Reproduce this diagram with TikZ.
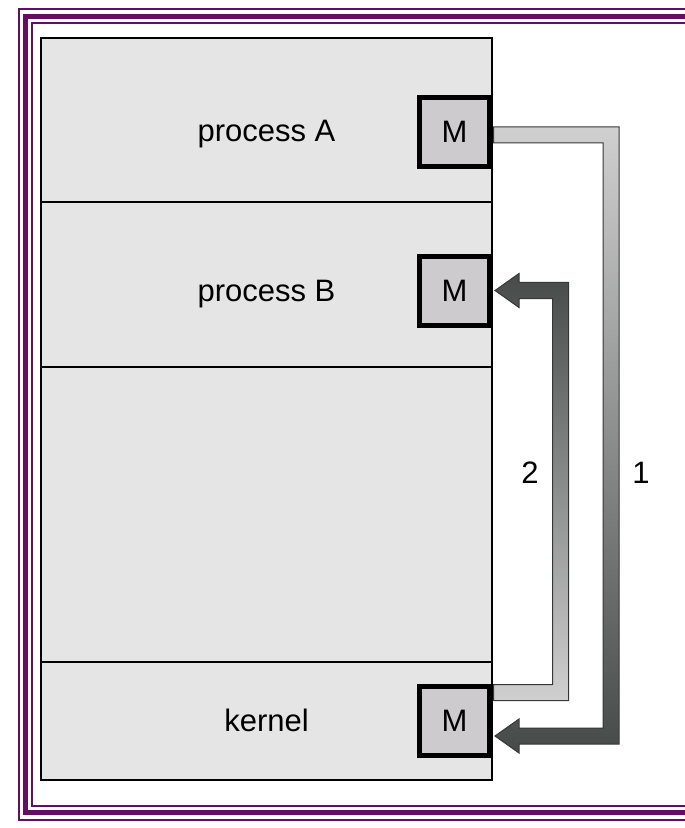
\documentclass[tikz,border=0pt]{standalone}
\usepackage{fontspec}
\setmainfont{Liberation Sans}
\usetikzlibrary{calc}
\definecolor{frameP}{RGB}{98,14,98}
\definecolor{panelfill}{RGB}{229,229,229}
\definecolor{mfill}{RGB}{205,203,206}
\definecolor{arrLight}{RGB}{208,208,208}
\definecolor{arrDark}{RGB}{70,74,72}
\definecolor{arrEdge}{RGB}{55,55,55}
\begin{document}
\begin{tikzpicture}[x=0.5pt,y=-0.5pt,
  thinframe/.style={draw=frameP,line width=1pt,line join=miter},
  thickframe/.style={draw=frameP,line width=2.5pt,line join=miter},
  mbox/.style={draw=black,line width=2.5pt,fill=mfill,inner sep=0pt,outer sep=0pt,
    minimum width=35pt,minimum height=34.5pt,font=\fontsize{15.5pt}{18pt}\selectfont},
  lbl/.style={anchor=base,inner sep=0pt,font=\fontsize{15.5pt}{18pt}\selectfont},
  arrowbody/.style={draw=arrEdge,line width=0.5pt,line join=miter}]
\useasboundingbox (0,0) rectangle (684,828);
% frame
\draw[thinframe] (690,9.5) -- (19,9.5) -- (19,819.5) -- (690,819.5);
\draw[thickframe] (690,16.5) -- (25,16.5) -- (25,812.5) -- (690,812.5);
\draw[thinframe] (690,23.5) -- (32,23.5) -- (32,805.5) -- (690,805.5);
% main panel
\node (panel) [draw=black,fill=panelfill,line width=1.25pt,inner sep=0pt,outer sep=0pt,
  minimum width=225.5pt,minimum height=371pt] at (266.5,409) {};
\coordinate (d1) at (0,202);
\coordinate (d2) at (0,367);
\coordinate (d3) at (0,662);
\draw[line width=1.1pt] (panel.west |- d1) -- (panel.east |- d1);
\draw[line width=1.1pt] (panel.west |- d2) -- (panel.east |- d2);
\draw[line width=1.1pt] (panel.west |- d3) -- (panel.east |- d3);
% labels
\node (tA) [lbl] at (266.5,142) {process A};
\node (tB) [lbl] at (266.5,301) {process B};
\node (tK) [lbl] at (266.5,731) {kernel};
% M boxes
\node (mA) [mbox] at (454.5,132) {M};
\node (mB) [mbox] at (454.5,291) {M};
\node (mK) [mbox] at (454.5,721) {M};
% arrow 1: process A -> kernel
\coordinate (a1s) at ($(mA.east)+(4,3)$);
\coordinate (a1e) at ($(mK.east)+(5.5,15)$);
\coordinate (c1) at (611,0);
\path[arrowbody,top color=arrLight,bottom color=arrDark]
  ($(a1s)+(0,-8)$) -- ($(a1s-|c1)+(8,-8)$) -- ($(a1e-|c1)+(8,8)$) --
  ($(a1e)+(24,8)$) -- ($(a1e)+(24,17)$) -- (a1e) -- ($(a1e)+(24,-17)$) --
  ($(a1e)+(24,-8)$) -- ($(a1e-|c1)+(-8,-8)$) -- ($(a1s-|c1)+(-8,8)$) --
  ($(a1s)+(0,8)$) -- cycle;
% arrow 2: kernel -> process B
\coordinate (a2s) at ($(mK.east)+(4,-28.5)$);
\coordinate (a2e) at ($(mB.east)+(5.5,-0.5)$);
\coordinate (c2) at (560.5,0);
\path[arrowbody,top color=arrDark,bottom color=arrLight]
  ($(a2s)+(0,8)$) -- ($(a2s-|c2)+(8,8)$) -- ($(a2e-|c2)+(8,-8)$) --
  ($(a2e)+(24,-8)$) -- ($(a2e)+(24,-17)$) -- (a2e) -- ($(a2e)+(24,17)$) --
  ($(a2e)+(24,8)$) -- ($(a2e-|c2)+(-8,8)$) -- ($(a2s-|c2)+(-8,-8)$) --
  ($(a2s)+(0,-8)$) -- cycle;
% numbers
\node (n2) [lbl] at (530,483) {2};
\node (n1) [lbl] at (641,483) {1};
\end{tikzpicture}
\end{document}
